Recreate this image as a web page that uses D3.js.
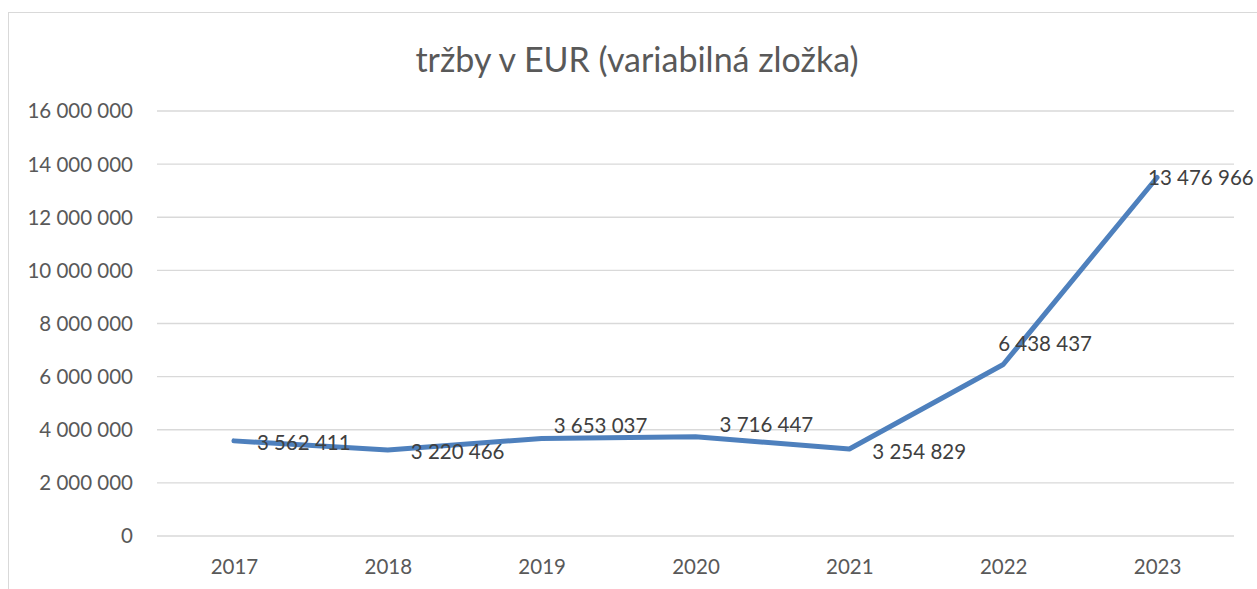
<!DOCTYPE html>
<html>
<head>
<meta charset="utf-8">
<script src="https://cdn.jsdelivr.net/npm/d3@7"></script>
<style>
  body { margin: 0; background: #fff; overflow: hidden; }
  text { font-family: Lato, "Open Sans", sans-serif; }
</style>
</head>
<body>
<div id="chart"></div>
<script>
// data
const years = ["2017", "2018", "2019", "2020", "2021", "2022", "2023"];
const revenue = [3562411, 3220466, 3653037, 3716447, 3254829, 6438437, 13476966];
const yTicks = [0, 2000000, 4000000, 6000000, 8000000, 10000000, 12000000, 14000000, 16000000];
const chartTitle = "tržby v EUR (variabilná zložka)";

// hand-placed data label nudges (dx to label start, dy to label centre), like in the original
const labelNudge = [[23, 2], [23, 2], [12, -13], [24, -12], [23, 3], [-5, -21], [-9, 0]];

const width = 1257, height = 589;
const margin = { top: 110.5, right: 23, bottom: 53.5, left: 157 };

const svg = d3.select("#chart").append("svg")
    .attr("width", width)
    .attr("height", height);

// chart area border
svg.append("rect")
    .attr("x", 8.5).attr("y", 12.5)
    .attr("width", 1300).attr("height", 640)
    .attr("fill", "#fff")
    .attr("stroke", "#d9d9d9")
    .attr("stroke-width", 1);

svg.append("text")
    .attr("x", 637).attr("y", 58)
    .attr("text-anchor", "middle")
    .attr("dominant-baseline", "central")
    .style("font-size", "34px")
    .style("fill", "#595959")
    .text(chartTitle);

const x = d3.scalePoint()
    .domain(years)
    .range([margin.left, width - margin.right])
    .padding(0.5);

const y = d3.scaleLinear()
    .domain([0, 16000000])
    .range([height - margin.bottom, margin.top]);

const fmt = v => d3.format(",")(v).replace(/,/g, " ");

// gridlines + y labels
const yAxis = svg.append("g")
    .attr("transform", `translate(${margin.left},0)`)
    .call(d3.axisLeft(y).tickValues(yTicks).tickSize(-(width - margin.left - margin.right)).tickPadding(24).tickFormat(fmt));
yAxis.select(".domain").remove();
yAxis.selectAll(".tick line").attr("stroke", "#d9d9d9").attr("stroke-width", 1.3);
yAxis.selectAll(".tick text")
    .attr("fill", "#595959")
    .style("font-size", "20.5px")
    .attr("dy", "0.36em");

// x labels
const xAxis = svg.append("g")
    .attr("transform", `translate(0,${height - margin.bottom})`)
    .call(d3.axisBottom(x).tickSize(0).tickPadding(31));
xAxis.select(".domain").remove();
xAxis.selectAll(".tick text")
    .attr("fill", "#595959")
    .style("font-size", "20.5px")
    .attr("dy", "0.36em");

const line = d3.line()
    .x((d, i) => x(years[i]))
    .y(d => y(d));

svg.append("path")
    .datum(revenue)
    .attr("fill", "none")
    .attr("stroke", "#4e80bd")
    .attr("stroke-width", 5)
    .attr("stroke-linejoin", "round")
    .attr("stroke-linecap", "round")
    .attr("d", line);

svg.selectAll(".data-label")
    .data(revenue)
    .enter()
    .append("text")
    .attr("class", "data-label")
    .attr("x", (d, i) => x(years[i]) + labelNudge[i][0])
    .attr("y", (d, i) => y(d) + labelNudge[i][1])
    .attr("dy", "0.36em")
    .style("font-size", "20.5px")
    .style("fill", "#404040")
    .text(fmt);
</script>
</body>
</html>
